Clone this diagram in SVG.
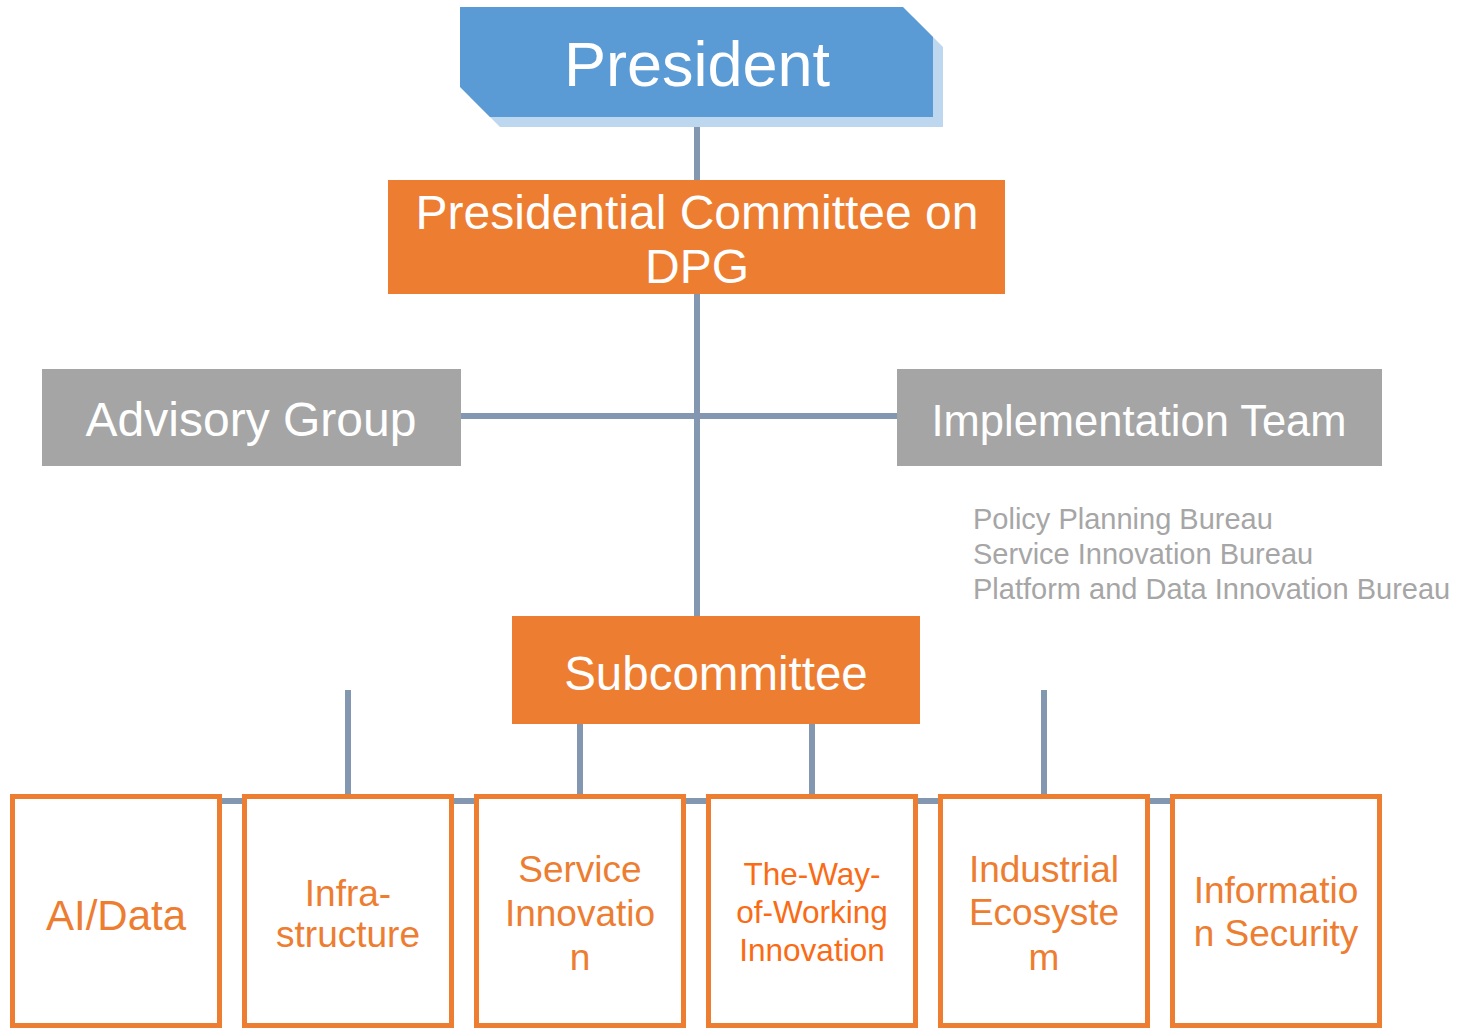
<svg xmlns="http://www.w3.org/2000/svg" width="1458" height="1030" viewBox="0 0 1458 1030">
<style>
text{font-family:"Liberation Sans",Arial,sans-serif;text-anchor:middle}
.w{fill:#FFFFFF}
.conn{stroke:#8497B0;stroke-width:6;fill:none}
.ob{fill:#FFFFFF;stroke:#ED7D31;stroke-width:5}
.ot{fill:#ED7D31;font-size:37px}
.gray{fill:#A5A5A5}
.or{fill:#ED7D31}
.bu{font-size:29px;fill:#A6A6A6;text-anchor:start}
</style>
<rect width="1458" height="1030" fill="#FFFFFF"/>
<g id="connectors">
<line class="conn" x1="697" y1="117" x2="697" y2="616"/>
<line class="conn" x1="460" y1="416" x2="897" y2="416"/>
<line class="conn" x1="116" y1="801" x2="1276" y2="801"/>
<line class="conn" x1="348" y1="690" x2="348" y2="796"/>
<line class="conn" x1="580" y1="724" x2="580" y2="796"/>
<line class="conn" x1="812" y1="724" x2="812" y2="796"/>
<line class="conn" x1="1044" y1="690" x2="1044" y2="796"/>
</g>
<g id="president">
<polygon points="470,17 913,17 943,47 943,127 500,127 470,97" fill="#BDD7EE"/>
<polygon points="460,7 903,7 933,37 933,117 490,117 460,87" fill="#5B9BD5"/>
<text class="w" x="697" y="86" style="font-size:63px">President</text>
</g>
<g id="committee">
<rect class="or" x="388" y="180" width="617" height="114"/>
<text class="w" x="697" y="229" style="font-size:48px">Presidential Committee on</text>
<text class="w" x="697" y="283" style="font-size:48px">DPG</text>
</g>
<g id="advisory">
<rect class="gray" x="42" y="369" width="419" height="97"/>
<text class="w" x="251" y="436" style="font-size:48px">Advisory Group</text>
</g>
<g id="implementation">
<rect class="gray" x="897" y="369" width="485" height="97"/>
<text class="w" x="1139" y="436" style="font-size:43.5px">Implementation Team</text>
</g>
<g id="bureaus">
<text class="bu" x="973" y="529">Policy Planning Bureau</text>
<text class="bu" x="973" y="564">Service Innovation Bureau</text>
<text class="bu" x="973" y="599">Platform and Data Innovation Bureau</text>
</g>
<g id="subcommittee">
<rect class="or" x="512" y="616" width="408" height="108"/>
<text class="w" x="716" y="690" style="font-size:47.5px">Subcommittee</text>
</g>
<g id="ai-data">
<rect class="ob" x="12.5" y="796.5" width="207" height="229"/>
<text class="ot" x="116" y="930" style="font-size:42px">AI/Data</text>
</g>
<g id="infrastructure">
<rect class="ob" x="244.5" y="796.5" width="207" height="229"/>
<text class="ot" x="348" y="906">Infra-</text>
<text class="ot" x="348" y="947">structure</text>
</g>
<g id="service-innovation">
<rect class="ob" x="476.5" y="796.5" width="207" height="229"/>
<text class="ot" x="580" y="882">Service</text>
<text class="ot" x="580" y="926">Innovatio</text>
<text class="ot" x="580" y="970">n</text>
</g>
<g id="way-of-working">
<rect class="ob" x="708.5" y="796.5" width="207" height="229"/>
<text x="812" y="885" style="font-size:31.5px;fill:#F96B14">The-Way-</text>
<text x="812" y="923" style="font-size:31.5px;fill:#F96B14">of-Working</text>
<text x="812" y="961" style="font-size:31.5px;fill:#F96B14">Innovation</text>
</g>
<g id="industrial-ecosystem">
<rect class="ob" x="940.5" y="796.5" width="207" height="229"/>
<text class="ot" x="1044" y="882">Industrial</text>
<text class="ot" x="1044" y="925">Ecosyste</text>
<text class="ot" x="1044" y="970">m</text>
</g>
<g id="information-security">
<rect class="ob" x="1172.5" y="796.5" width="207" height="229"/>
<text class="ot" x="1276" y="903">Informatio</text>
<text class="ot" x="1276" y="946">n Security</text>
</g>
</svg>
